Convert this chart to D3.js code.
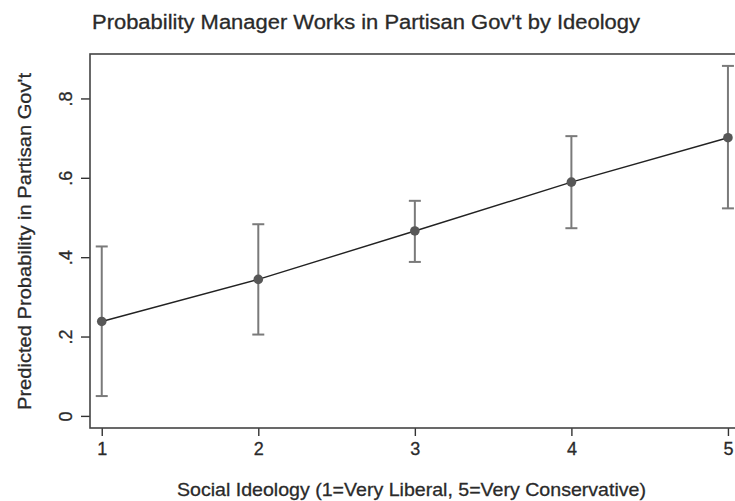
<!DOCTYPE html>
<html>
<head>
<meta charset="utf-8">
<script src="https://cdn.jsdelivr.net/npm/d3@7"></script>
<style>
  body { margin: 0; background: #fff; }
  svg { display: block; font-family: "Liberation Sans", Arial, sans-serif; }
  .tick line { stroke: #333; stroke-width: 1.4; }
  .tick text { fill: #2a2a2a; stroke: #2a2a2a; stroke-width: 0.3; font-size: 18px; }
  .ttl { fill: #2a2a2a; stroke: #2a2a2a; stroke-width: 0.3; }
</style>
</head>
<body>
<div id="chart"></div>
<script>
// social ideology categories and predicted probabilities with 95% CI
const ideology = [1, 2, 3, 4, 5]
const predicted = [0.238, 0.344, 0.466, 0.589, 0.701]
const ciLower = [0.050, 0.205, 0.388, 0.473, 0.523]
const ciUpper = [0.427, 0.483, 0.542, 0.705, 0.882]
const yTicks = [0, 0.2, 0.4, 0.6, 0.8]

const W = 735, H = 501
const margin = {top: 54, right: -5, bottom: 73, left: 90}
const width = W - margin.left - margin.right,
    height = H - margin.top - margin.bottom;

const data = ideology.map((d, i) => ({x: d, p: predicted[i], lo: ciLower[i], hi: ciUpper[i]}))

const root = d3.select("#chart").append("svg")
    .attr("width", W)
    .attr("height", H)

const svg = root.append("g")
    .attr("transform", "translate(" + margin.left + "," + margin.top + ")");

let x = d3.scaleLinear()
    .domain([0.925, 5.077])
    .range([0, width]);

let y = d3.scaleLinear()
    .domain([-0.0305, 0.912])
    .range([height, 0]);

// x axis
const gx = svg.append("g")
    .attr("transform", "translate(0," + height + ")")
    .call(d3.axisBottom(x)
        .tickValues(ideology)
        .tickFormat(d3.format("d"))
        .tickSizeInner(8)
        .tickSizeOuter(0)
        .tickPadding(6)
    );
gx.select(".domain").remove();

// y axis, labels turned like Stata does
const gy = svg.append("g")
    .call(d3.axisLeft(y)
        .tickValues(yTicks)
        .tickFormat(d => d === 0 ? "0" : d3.format(".1f")(d).replace(/^0/, ""))
        .tickSizeInner(9)
        .tickSizeOuter(0)
    );
gy.select(".domain").remove();
gy.selectAll(".tick text")
    .attr("x", null)
    .attr("dy", null)
    .attr("text-anchor", "middle")
    .attr("transform", "translate(-18,0) rotate(-90)");

// plot frame
svg.append("rect")
    .attr("x", 0)
    .attr("y", 0)
    .attr("width", width)
    .attr("height", height)
    .attr("fill", "none")
    .attr("stroke", "#444")
    .attr("stroke-width", 1.6);

// confidence intervals
const ci = svg.append("g").attr("stroke", "#7a7a7a").attr("stroke-width", 2).attr("fill", "none")
ci.selectAll("line.bar").data(data).join("line")
    .attr("class", "bar")
    .attr("x1", d => x(d.x)).attr("x2", d => x(d.x))
    .attr("y1", d => y(d.lo)).attr("y2", d => y(d.hi));
ci.selectAll("line.capt").data(data).join("line")
    .attr("class", "capt")
    .attr("x1", d => x(d.x) - 6).attr("x2", d => x(d.x) + 6)
    .attr("y1", d => y(d.hi)).attr("y2", d => y(d.hi));
ci.selectAll("line.capb").data(data).join("line")
    .attr("class", "capb")
    .attr("x1", d => x(d.x) - 6).attr("x2", d => x(d.x) + 6)
    .attr("y1", d => y(d.lo)).attr("y2", d => y(d.lo));

// prediction line
svg.append("path")
    .datum(data)
    .attr("fill", "none")
    .attr("stroke", "#222")
    .attr("stroke-width", 1.4)
    .attr("d", d3.line()
        .x(d => x(d.x))
        .y(d => y(d.p))
    );

svg.selectAll("circle.pt").data(data).join("circle")
    .attr("class", "pt")
    .attr("cx", d => x(d.x))
    .attr("cy", d => y(d.p))
    .attr("r", 4.8)
    .attr("fill", "#575757");

// titles
root.append("text")
    .attr("class", "ttl")
    .attr("x", 92)
    .attr("y", 29)
    .attr("font-size", 20)
    .attr("textLength", 548)
    .attr("lengthAdjust", "spacingAndGlyphs")
    .text("Probability Manager Works in Partisan Gov't by Ideology");

root.append("text")
    .attr("class", "ttl")
    .attr("x", 177)
    .attr("y", 496)
    .attr("font-size", 19)
    .attr("textLength", 469)
    .attr("lengthAdjust", "spacingAndGlyphs")
    .text("Social Ideology (1=Very Liberal, 5=Very Conservative)");

root.append("text")
    .attr("class", "ttl")
    .attr("transform", "translate(31,410) rotate(-90)")
    .attr("font-size", 19)
    .attr("textLength", 337)
    .attr("lengthAdjust", "spacingAndGlyphs")
    .text("Predicted Probability in Partisan Gov't");
</script>
</body>
</html>
